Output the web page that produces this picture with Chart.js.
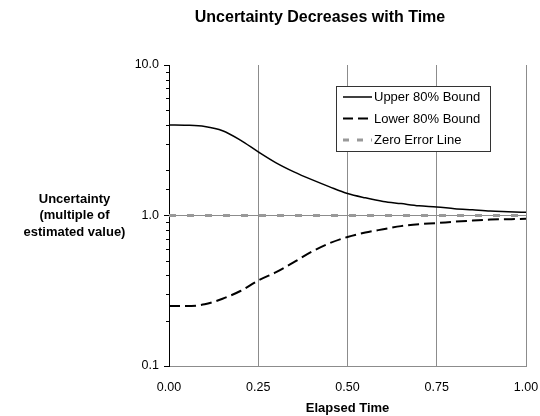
<!DOCTYPE html>
<html>
<head>
<meta charset="utf-8">
<script src="https://cdn.jsdelivr.net/npm/chart.js@4.4.1/dist/chart.umd.min.js"></script>
<style>
html,body{margin:0;padding:0;background:#fff;}
#wrap{width:540px;height:416px;}
</style>
</head>
<body>
<div id="wrap"><canvas id="c" width="540" height="416"></canvas></div>
<script>
// ---- data ----
const chartTitle = 'Uncertainty Decreases with Time';
const yTitleLines = ['Uncertainty', '(multiple of', 'estimated value)'];
const xTitle = 'Elapsed Time';
const seriesNames = ['Upper 80% Bound', 'Lower 80% Bound', 'Zero Error Line'];
const elapsed = [0, 0.05, 0.10, 0.15, 0.20, 0.25, 0.30, 0.35, 0.40, 0.45, 0.50,
                 0.55, 0.60, 0.65, 0.70, 0.75, 0.80, 0.85, 0.90, 0.95, 1.00];
const upperBound = [4.00, 3.98, 3.90, 3.66, 3.17, 2.65, 2.24, 1.95, 1.73, 1.55, 1.40,
                    1.31, 1.24, 1.20, 1.16, 1.14, 1.11, 1.09, 1.07, 1.06, 1.05];
const lowerBound = [0.25, 0.25, 0.257, 0.28, 0.315, 0.37, 0.42, 0.49, 0.575, 0.655, 0.72,
                    0.77, 0.81, 0.85, 0.875, 0.89, 0.91, 0.925, 0.94, 0.945, 0.95];
const zeroErrorX = [0, 1];
const zeroErrorY = [1, 1];
const xTickValues = [0, 0.25, 0.5, 0.75, 1];
const xTickLabels = ['0.00', '0.25', '0.50', '0.75', '1.00'];
const yTickValues = [0.1, 1, 10];
const yTickLabels = ['0.1', '1.0', '10.0'];

const FONT = "'Liberation Sans', Arial, sans-serif";
const GRID = '#8c8c8c';

function pts(xs, ys) { return xs.map((x, i) => ({x: x, y: ys[i]})); }
function yLabelIndex(v) {
  return yTickValues.findIndex(t => Math.abs(Math.log10(v) - Math.log10(t)) < 1e-6);
}

const legendStyles = [
  {color: '#000', width: 1.5, dash: []},
  {color: '#000', width: 2, dash: [10, 5]},
  {color: '#999', width: 3, dash: [6, 8]}
];

const extras = {
  id: 'extras',
  afterDraw(chart) {
    const ctx = chart.ctx, ca = chart.chartArea, ys = chart.scales.y;
    ctx.save();
    // minor ticks on log axis
    ctx.strokeStyle = '#000'; ctx.lineWidth = 1;
    ys.ticks.forEach(t => {
      if (yLabelIndex(t.value) >= 0) return;
      const p = Math.round(ys.getPixelForValue(t.value)) + 0.5;
      ctx.beginPath(); ctx.moveTo(ca.left - 3, p); ctx.lineTo(ca.left, p); ctx.stroke();
    });
    // y-axis title (horizontal, 3 lines)
    ctx.fillStyle = '#000';
    ctx.font = 'bold 13px ' + FONT;
    ctx.textAlign = 'center'; ctx.textBaseline = 'middle';
    const cy = (ca.top + ca.bottom) / 2;
    yTitleLines.forEach((s, i) => ctx.fillText(s, 74.5, cy + (i - 1) * 16.5));
    // legend box inside plot
    const bx = ca.left + 167, by = ca.top + 21, bw = 154, bh = 65;
    ctx.fillStyle = '#fff'; ctx.fillRect(bx, by, bw, bh);
    ctx.strokeStyle = '#333'; ctx.lineWidth = 1;
    ctx.strokeRect(bx + 0.5, by + 0.5, bw, bh);
    ctx.font = '13px ' + FONT; ctx.textAlign = 'left';
    chart.data.datasets.forEach((ds, i) => {
      const ry = by + 11 + i * 21.5;
      const st = legendStyles[i];
      ctx.strokeStyle = st.color; ctx.lineWidth = st.width; ctx.setLineDash(st.dash);
      ctx.beginPath(); ctx.moveTo(bx + 7, ry); ctx.lineTo(bx + 36, ry); ctx.stroke();
      ctx.setLineDash([]);
      ctx.fillStyle = '#000';
      ctx.fillText(ds.label, bx + 38, ry + 0.5);
    });
    ctx.restore();
  }
};

new Chart(document.getElementById('c'), {
  type: 'line',
  data: {
    datasets: [
      {label: seriesNames[0], data: pts(elapsed, upperBound), borderColor: '#000',
       borderWidth: 1.5, pointRadius: 0, cubicInterpolationMode: 'monotone', fill: false},
      {label: seriesNames[1], data: pts(elapsed, lowerBound), borderColor: '#000',
       borderWidth: 2, borderDash: [11, 5], pointRadius: 0, cubicInterpolationMode: 'monotone', fill: false},
      {label: seriesNames[2], data: pts(zeroErrorX, zeroErrorY), borderColor: '#999',
       borderWidth: 3, borderDash: [7, 11], pointRadius: 0, fill: false}
    ]
  },
  options: {
    responsive: false,
    animation: false,
    devicePixelRatio: 1,
    layout: {padding: {left: 114, right: 14, top: 0, bottom: 0}},
    plugins: {
      legend: {display: false},
      tooltip: {enabled: false},
      title: {
        display: true, text: chartTitle, color: '#000',
        font: {family: FONT, size: 16, weight: 'bold'},
        padding: {top: 8, bottom: 37.8}
      }
    },
    scales: {
      x: {
        type: 'linear', min: 0, max: 1,
        afterBuildTicks: s => { s.ticks = xTickValues.map(v => ({value: v})); },
        afterFit: s => { s.height = 50; s.paddingLeft = 0; s.paddingRight = 0; },
        ticks: {
          autoSkip: false, maxRotation: 0, padding: 14, color: '#000',
          font: {family: FONT, size: 12.5},
          callback: (v, i) => xTickLabels[i]
        },
        grid: {
          drawTicks: false,
          color: c => (c.tick && c.tick.value > 0) ? GRID : 'rgba(0,0,0,0)',
          lineWidth: 1
        },
        border: {display: true, color: GRID, width: 1},
        title: {
          display: true, text: xTitle, color: '#000',
          font: {family: FONT, size: 13, weight: 'bold'},
          padding: {top: 0, bottom: 0}
        }
      },
      y: {
        type: 'logarithmic', min: 0.1, max: 10,
        afterFit: s => { s.width = 55; s.paddingTop = 0; s.paddingBottom = 0; },
        ticks: {
          autoSkip: false, padding: 5, color: '#000',
          font: {family: FONT, size: 12.5},
          callback: v => { const i = yLabelIndex(v); return i >= 0 ? yTickLabels[i] : ''; }
        },
        grid: {
          drawTicks: true, tickLength: 5,
          color: c => (c.tick && Math.abs(c.tick.value - 1) < 1e-9) ? GRID : 'rgba(0,0,0,0)',
          tickColor: c => (c.tick && yLabelIndex(c.tick.value) >= 0) ? '#000' : 'rgba(0,0,0,0)',
          lineWidth: 1
        },
        border: {display: true, color: '#000', width: 1}
      }
    }
  },
  plugins: [extras]
});
</script>
</body>
</html>
